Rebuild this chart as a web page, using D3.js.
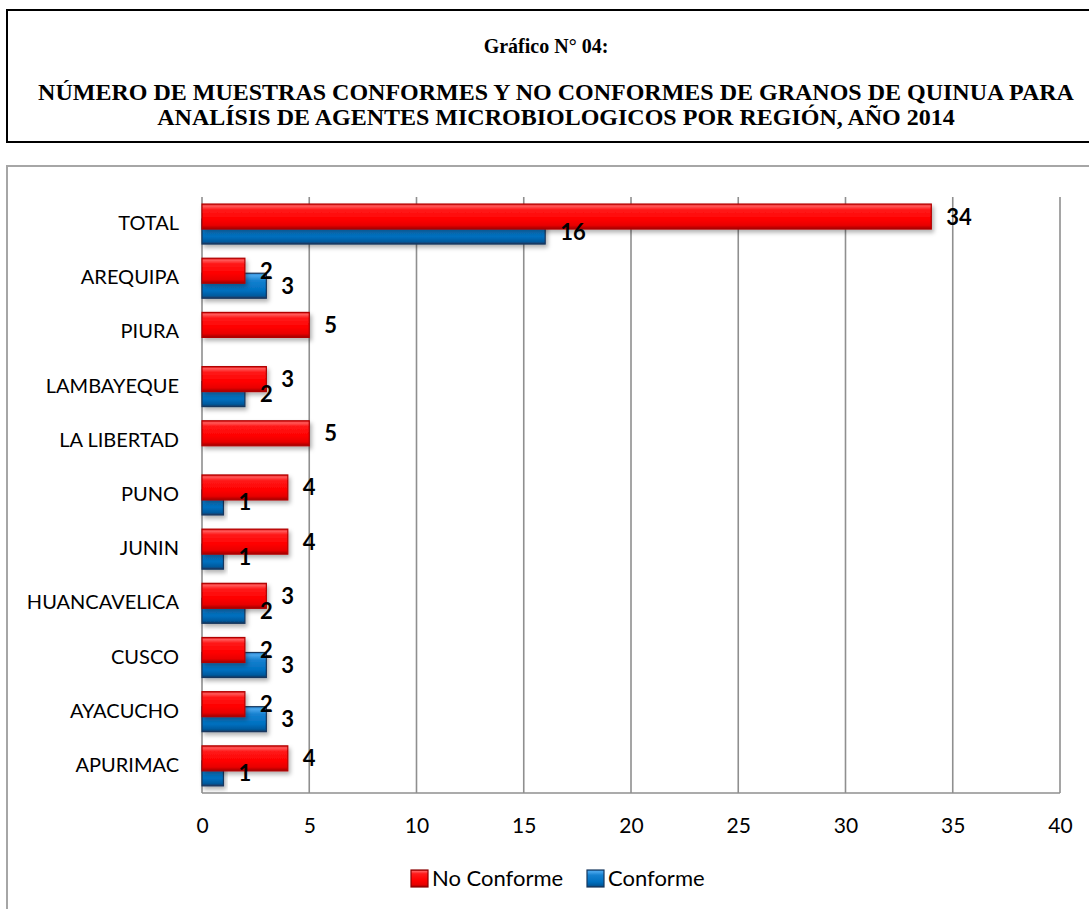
<!DOCTYPE html>
<html>
<head>
<meta charset="utf-8">
<script src="https://cdn.jsdelivr.net/npm/d3@7"></script>
<style>
  html, body { margin: 0; padding: 0; background: #fff; }
  svg { display: block; }
</style>
</head>
<body>
<svg id="chart" width="1089" height="909"></svg>
<script>
// Regions, top to bottom
const regions = ["TOTAL", "AREQUIPA", "PIURA", "LAMBAYEQUE", "LA LIBERTAD", "PUNO",
                 "JUNIN", "HUANCAVELICA", "CUSCO", "AYACUCHO", "APURIMAC"];
// Samples per region
const noConforme = [34, 2, 5, 3, 5, 4, 4, 3, 2, 2, 4];
const conforme   = [16, 3, 0, 2, 0, 1, 1, 2, 3, 3, 1];
const xTicks = [0, 5, 10, 15, 20, 25, 30, 35, 40];
const seriesNames = ["No Conforme", "Conforme"];
const titleLines = [
  "Gráfico N° 04:",
  "NÚMERO DE MUESTRAS CONFORMES Y NO CONFORMES DE GRANOS DE QUINUA PARA",
  "ANALÍSIS DE AGENTES MICROBIOLOGICOS POR REGIÓN, AÑO 2014"
];

const svg = d3.select("#chart");
const labelFont = "Lato, 'Open Sans', sans-serif";

// gradients / shadow for the bevelled bars
const defs = svg.append("defs");
function bevel(id, stops) {
  const g = defs.append("linearGradient").attr("id", id)
    .attr("x1", 0).attr("y1", 0).attr("x2", 0).attr("y2", 1);
  stops.forEach(([o, c]) => g.append("stop").attr("offset", o).attr("stop-color", c));
}
bevel("gRed", [[0, "#e01010"], [0.08, "#ff5a5a"], [0.22, "#ff1a1a"], [0.6, "#ff0000"], [0.85, "#e80000"], [1, "#a00000"]]);
bevel("gBlue", [[0, "#2a8ad6"], [0.1, "#49a6ec"], [0.3, "#1581d0"], [0.7, "#0070c0"], [0.9, "#005a9e"], [1, "#17375e"]]);
const sh = defs.append("filter").attr("id", "shadow")
  .attr("x", "-10%").attr("y", "-30%").attr("width", "130%").attr("height", "180%");
sh.append("feDropShadow").attr("dx", 2).attr("dy", 3).attr("stdDeviation", 2.2)
  .attr("flood-color", "#000").attr("flood-opacity", 0.3);

// title box
svg.append("rect").attr("x", 7).attr("y", 10).attr("width", 1100).attr("height", 132)
  .attr("fill", "none").attr("stroke", "#000").attr("stroke-width", 2);
const tFont = "'Liberation Serif', 'Times New Roman', serif";
svg.append("text").attr("x", 546).attr("y", 53).attr("text-anchor", "middle")
  .attr("font-family", tFont).attr("font-weight", "bold").attr("font-size", 20)
  .text(titleLines[0]);
svg.append("text").attr("x", 556).attr("y", 100).attr("text-anchor", "middle")
  .attr("font-family", tFont).attr("font-weight", "bold").attr("font-size", 24)
  .text(titleLines[1]);
svg.append("text").attr("x", 556).attr("y", 125).attr("text-anchor", "middle")
  .attr("font-family", tFont).attr("font-weight", "bold").attr("font-size", 24)
  .text(titleLines[2]);

// chart frame
svg.append("rect").attr("x", 7).attr("y", 166).attr("width", 1100).attr("height", 800)
  .attr("fill", "#fff").attr("stroke", "#a6a6a6").attr("stroke-width", 2);

const plot = { left: 202, right: 1060, top: 197, bottom: 793 };
const x = d3.scaleLinear().domain([0, 40]).range([plot.left, plot.right]);
const y = d3.scaleBand().domain(regions).range([plot.top, plot.bottom])
  .paddingInner(0.26).paddingOuter(0.13);
const barH = 25, offset = 15;

// vertical gridlines
svg.append("g").selectAll("line").data(xTicks).join("line")
  .attr("x1", d => x(d)).attr("x2", d => x(d))
  .attr("y1", plot.top).attr("y2", plot.bottom)
  .attr("stroke", "#8f8f8f").attr("stroke-width", 1.6);

// bottom axis line
svg.append("line").attr("x1", plot.left).attr("x2", plot.right)
  .attr("y1", plot.bottom).attr("y2", plot.bottom)
  .attr("stroke", "#8f8f8f").attr("stroke-width", 1.6);

// x axis tick labels
const xAxis = d3.axisBottom(x).tickValues(xTicks).tickSize(0).tickPadding(0);
const gx = svg.append("g").attr("transform", `translate(0,${plot.bottom})`).call(xAxis);
gx.select(".domain").remove();
gx.selectAll("text").attr("dy", 0).attr("y", 40)
  .attr("font-family", labelFont).attr("font-size", 21).attr("fill", "#000");

// y axis category labels
const yAxis = d3.axisLeft(y).tickSize(0).tickPadding(0);
const gy = svg.append("g").attr("transform", `translate(${plot.left - 23},0)`).call(yAxis);
gy.select(".domain").remove();
gy.selectAll("text").attr("dy", 0).attr("y", 6)
  .attr("font-family", labelFont).attr("font-size", 20).attr("fill", "#000");

const rows = regions.map((r, i) => ({ region: r, nc: noConforme[i], c: conforme[i] }));

// Conforme bars (behind)
svg.append("g").selectAll("rect").data(rows.filter(d => d.c > 0)).join("rect")
  .attr("x", x(0)).attr("y", d => y(d.region) + offset)
  .attr("width", d => x(d.c) - x(0)).attr("height", barH)
  .attr("fill", "url(#gBlue)").attr("stroke", "#17375e").attr("stroke-width", 1.2)
  .attr("filter", "url(#shadow)");

// No Conforme bars (front)
svg.append("g").selectAll("rect").data(rows).join("rect")
  .attr("x", x(0)).attr("y", d => y(d.region))
  .attr("width", d => x(d.nc) - x(0)).attr("height", barH)
  .attr("fill", "url(#gRed)").attr("stroke", "#b00000").attr("stroke-width", 1.2)
  .attr("filter", "url(#shadow)");

// value labels
const lbl = svg.append("g").attr("font-family", labelFont).attr("font-weight", "bold")
  .attr("font-size", 22).attr("fill", "#000");
lbl.selectAll("text.nc").data(rows).join("text").attr("class", "nc")
  .attr("x", d => x(d.nc) + 15).attr("y", d => y(d.region) + barH / 2 + 8)
  .text(d => d.nc);
lbl.selectAll("text.c").data(rows.filter(d => d.c > 0)).join("text").attr("class", "c")
  .attr("x", d => x(d.c) + 15).attr("y", d => y(d.region) + offset + barH / 2 + 8)
  .text(d => d.c);

// legend
const legend = svg.append("g").attr("font-family", labelFont).attr("font-size", 22);
const legendItems = [
  { name: seriesNames[0], fill: "url(#gRed)", stroke: "#8a0000", x: 411 },
  { name: seriesNames[1], fill: "url(#gBlue)", stroke: "#17375e", x: 587 }
];
legendItems.forEach(it => {
  legend.append("rect").attr("x", it.x).attr("y", 870).attr("width", 17).attr("height", 17)
    .attr("fill", it.fill).attr("stroke", it.stroke).attr("stroke-width", 1.2);
  legend.append("text").attr("x", it.x + 21).attr("y", 886).text(it.name);
});
</script>
</body>
</html>
